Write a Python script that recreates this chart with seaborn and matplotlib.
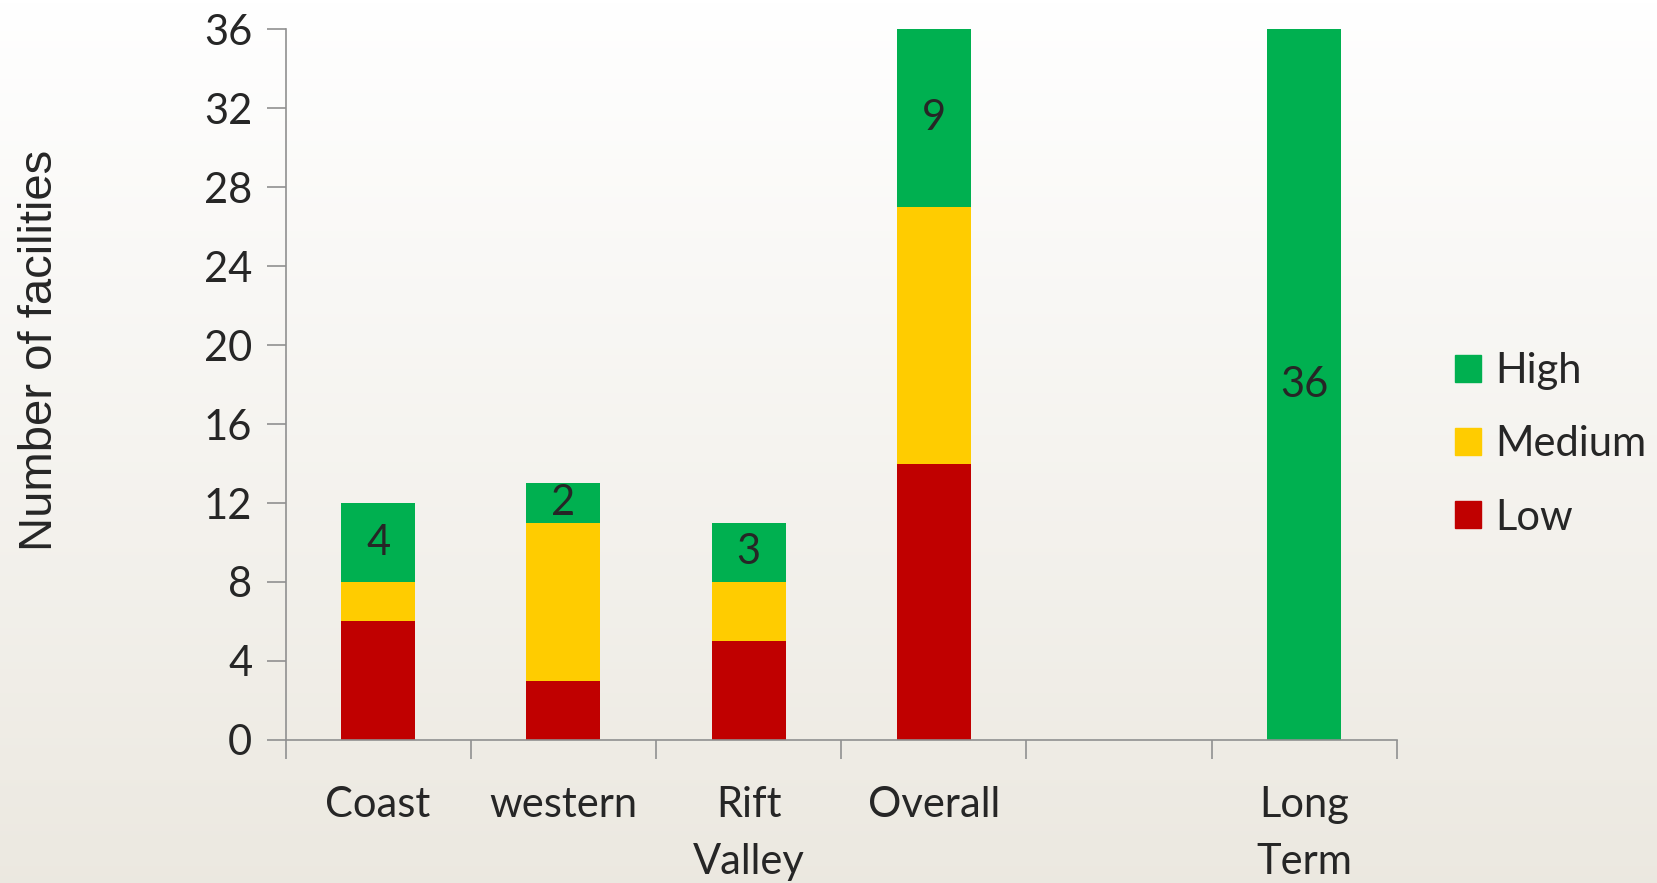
import matplotlib
matplotlib.use("Agg")
import matplotlib.pyplot as plt
import numpy as np
import pandas as pd
import seaborn as sns

categories = ["Coast", "western", "Rift\nValley", "Overall", " ", "Long\nTerm"]
low = [6, 3, 5, 14, 0, 0]
medium = [2, 8, 3, 13, 0, 0]
high = [4, 2, 3, 9, 0, 36]
yticks = [0, 4, 8, 12, 16, 20, 24, 28, 32, 36]

colors = {"High": "#00b050", "Medium": "#ffcc00", "Low": "#c00000"}

df = pd.DataFrame({"category": categories, "Low": low, "Medium": medium, "High": high})
df["LowMed"] = df["Low"] + df["Medium"]
df["Total"] = df["LowMed"] + df["High"]

sns.set_style("white")
plt.rcParams["font.family"] = ["Lato", "DejaVu Sans"]

fig = plt.figure(figsize=(16.58, 8.83), dpi=100)

# gradient background
bg = fig.add_axes([0, 0, 1, 1], zorder=-10)
grad = np.linspace(0, 1, 256).reshape(-1, 1)
top = np.array([1.0, 1.0, 1.0])
bottom = np.array([0.925, 0.912, 0.88])
img = top + (bottom - top) * grad[:, :, None]
bg.imshow(img, aspect="auto", extent=[0, 1, 0, 1], origin="upper")
bg.axis("off")

ax = fig.add_axes([0.1722, 0.162, 0.6703, 0.805])
ax.patch.set_alpha(0)

sns.barplot(data=df, x="category", y="Total", order=categories, color=colors["High"],
            width=0.4, saturation=1, linewidth=0, ax=ax)
sns.barplot(data=df, x="category", y="LowMed", order=categories, color=colors["Medium"],
            width=0.4, saturation=1, linewidth=0, ax=ax)
sns.barplot(data=df, x="category", y="Low", order=categories, color=colors["Low"],
            width=0.4, saturation=1, linewidth=0, ax=ax)

for i, row in df.iterrows():
    if row["High"] > 0:
        ax.text(i, row["LowMed"] + row["High"] / 2, str(row["High"]),
                ha="center", va="center", fontsize=30)

ax.set_ylim(0, 36)
ax.set_xlim(-0.5, len(categories) - 0.5)
ax.set_yticks(yticks)
ax.set_yticklabels([str(v) for v in yticks], fontsize=30)
ax.set_xticks(range(len(categories)))
ax.set_xticklabels(categories, fontsize=30, linespacing=1.62, va="top")
ax.set_xticks(np.arange(-0.5, len(categories)), minor=True)
ax.tick_params(axis="x", which="major", bottom=True, length=0, pad=33)
ax.tick_params(axis="x", which="minor", bottom=True, length=14, color="#909090", width=1.2, direction="out")
ax.tick_params(axis="y", left=True, length=14, color="#909090", width=1.2, direction="out", pad=10)
ax.set_xlabel("")
ax.set_ylabel("Number of facilities", fontsize=34, family=["Liberation Sans", "DejaVu Sans"], labelpad=102)
ax.yaxis.label.set_y(0.548)

for s in ["top", "right"]:
    ax.spines[s].set_visible(False)
for s in ["left", "bottom"]:
    ax.spines[s].set_color("#909090")
    ax.spines[s].set_linewidth(1.2)

handles = [plt.Rectangle((0, 0), 1, 1, color=colors[k]) for k in ["High", "Medium", "Low"]]
fig.legend(handles, ["High", "Medium", "Low"], loc="center left", bbox_to_anchor=(0.855, 0.497),
           frameon=False, fontsize=30, handlelength=0.62, handleheight=0.62,
           handletextpad=0.35, labelspacing=0.85)

fig.savefig("out.png", dpi=100)
